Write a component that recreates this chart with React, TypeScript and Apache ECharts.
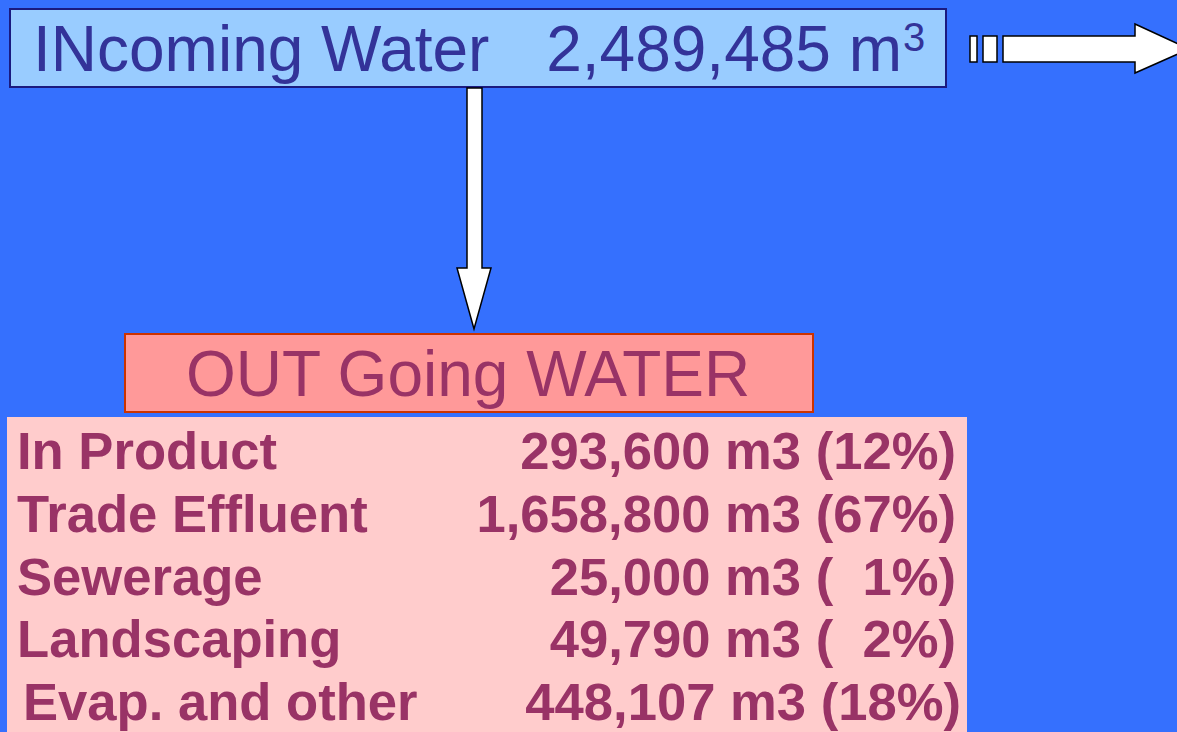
import React, { useEffect, useRef } from "react";
import * as echarts from "echarts";

// ---- data ----
const incomingLabel = "INcoming Water";
const incomingVolume = 2489485;
const incomingUnit = "m";
const outgoingTitle = "OUT Going WATER";
const categories = ["In Product", "Trade Effluent", "Sewerage", "Landscaping", "Evap. and other"];
const volumes = [293600, 1658800, 25000, 49790, 448107];
const percents = [12, 67, 1, 2, 18];

const fmt = (v: number) => v.toLocaleString("en-US");
const pct = (p: number) => {
  const s = String(p);
  return "(" + "  ".repeat(Math.max(0, 2 - s.length)) + s + "%)";
};

const FONT = "'Liberation Sans', Arial, Helvetica, sans-serif";

export default function App() {
  const ref = useRef<HTMLDivElement>(null);
  useEffect(() => {
    document.body.style.margin = "0";
    const chart = echarts.init(ref.current!, undefined, { renderer: "svg" });

    const rowBase = 450.5;
    const rowStep = 62.8;
    const rows: any[] = [];
    categories.forEach((c, i) => {
      const y = rowBase + i * rowStep;
      rows.push({
        type: "text",
        x: i === 4 ? 23 : 17,
        y,
        style: {
          text: c,
          fill: "#993366",
          font: `bold 52.6px ${FONT}`,
          align: "left",
          verticalAlign: "middle",
        },
      });
      rows.push({
        type: "text",
        x: i === 4 ? 961 : 956,
        y,
        style: {
          text: `${fmt(volumes[i])} m3 ${pct(percents[i])}`,
          fill: "#993366",
          font: `bold 52.6px ${FONT}`,
          align: "right",
          verticalAlign: "middle",
        },
      });
    });

    chart.setOption({
      animation: false,
      backgroundColor: "#3570fe",
      graphic: [
        // incoming box
        {
          type: "rect",
          shape: { x: 10, y: 9, width: 936, height: 78 },
          style: { fill: "#99ccff", stroke: "#1a1a80", lineWidth: 2 },
        },
        {
          type: "text",
          x: 33,
          y: 49,
          style: {
            text: incomingLabel,
            fill: "#333399",
            font: `64px ${FONT}`,
            align: "left",
            verticalAlign: "middle",
          },
        },
        {
          type: "text",
          x: 902,
          y: 49,
          style: {
            text: `${fmt(incomingVolume)} ${incomingUnit}`,
            fill: "#333399",
            font: `64px ${FONT}`,
            align: "right",
            verticalAlign: "middle",
          },
        },
        {
          type: "text",
          x: 903,
          y: 37,
          style: {
            text: "3",
            fill: "#333399",
            font: `40px ${FONT}`,
            align: "left",
            verticalAlign: "middle",
          },
        },
        // right arrow
        {
          type: "rect",
          shape: { x: 970, y: 36, width: 7, height: 26 },
          style: { fill: "#ffffff", stroke: "#000000", lineWidth: 1.5 },
        },
        {
          type: "rect",
          shape: { x: 983, y: 36, width: 14, height: 26 },
          style: { fill: "#ffffff", stroke: "#000000", lineWidth: 1.5 },
        },
        {
          type: "polygon",
          shape: {
            points: [
              [1003, 36],
              [1135, 36],
              [1135, 24],
              [1189, 49],
              [1135, 73],
              [1135, 62],
              [1003, 62],
            ],
          },
          style: { fill: "#ffffff", stroke: "#000000", lineWidth: 1.5 },
        },
        // down arrow
        {
          type: "polygon",
          shape: {
            points: [
              [467, 88],
              [482, 88],
              [482, 268],
              [491, 268],
              [474, 329],
              [457, 268],
              [467, 268],
            ],
          },
          style: { fill: "#ffffff", stroke: "#000000", lineWidth: 1.5 },
        },
        // outgoing box
        {
          type: "rect",
          shape: { x: 125, y: 334, width: 688, height: 78 },
          style: { fill: "#ff9999", stroke: "#cc3300", lineWidth: 2 },
        },
        {
          type: "text",
          x: 468,
          y: 374,
          style: {
            text: outgoingTitle,
            fill: "#993366",
            font: `64px ${FONT}`,
            align: "center",
            verticalAlign: "middle",
          },
        },
        // table
        {
          type: "rect",
          shape: { x: 7, y: 417, width: 960, height: 330 },
          style: { fill: "#ffcccc" },
        },
        ...rows,
      ],
    });
    return () => chart.dispose();
  }, []);
  return <div ref={ref} style={{ width: 1177, height: 732 }} />;
}
